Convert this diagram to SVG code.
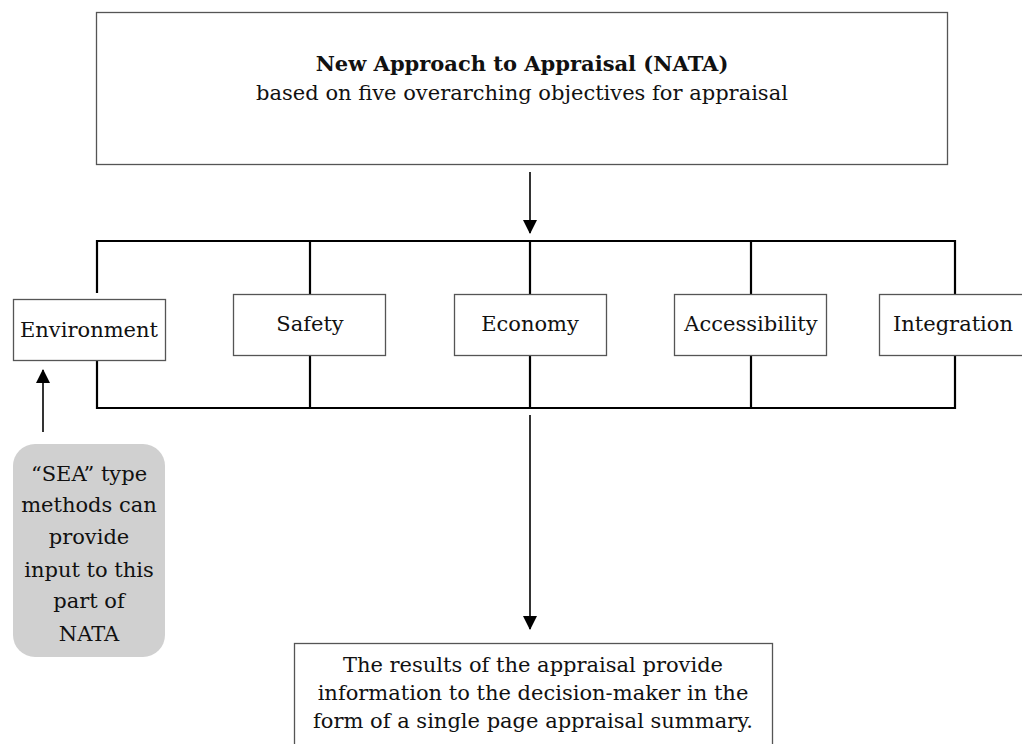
<svg xmlns="http://www.w3.org/2000/svg" width="1022" height="744" viewBox="0 0 1022 744">
<defs>
<marker id="ah" markerWidth="14" markerHeight="14" refX="13" refY="7" orient="auto" markerUnits="userSpaceOnUse">
<path d="M0,0 L14,7 L0,14 Z" fill="#000"/>
</marker>
<style>
.box{fill:#fff;stroke:#555;stroke-width:1.3}
.t{font-family:"DejaVu Serif","Liberation Serif",serif;font-size:21px;fill:#111;text-anchor:middle}
.b{font-weight:bold}
.ln{stroke:#000;stroke-width:2.2;fill:none}
.ar{stroke:#000;stroke-width:1.6;fill:none;marker-end:url(#ah)}
</style>
</defs>
<rect width="1022" height="744" fill="#fff"/>
<g id="connectors">
<path class="ln" d="M97,293 V241 H955 V294 M97,360 V408 H955 V355 M310,241 V294 M310,355 V408 M530,241 V294 M530,355 V408 M751,241 V294 M751,355 V408"/>
<line class="ar" x1="530" y1="172" x2="530" y2="233"/>
<line class="ar" x1="530" y1="415" x2="530" y2="629"/>
<line class="ar" x1="43" y1="432" x2="43" y2="370"/>
</g>
<g id="nata">
<rect class="box" x="96.5" y="12.5" width="851" height="152"/>
<text class="t b" x="522" y="71">New Approach to Appraisal (NATA)</text>
<text class="t" x="522" y="100">based on five overarching objectives for appraisal</text>
</g>
<g id="environment">
<rect class="box" x="13.5" y="299.5" width="152" height="61"/>
<text class="t" x="89" y="337">Environment</text>
</g>
<g id="safety">
<rect class="box" x="233.5" y="294.5" width="152" height="61"/>
<text class="t" x="310" y="331">Safety</text>
</g>
<g id="economy">
<rect class="box" x="454.5" y="294.5" width="152" height="61"/>
<text class="t" x="530" y="331">Economy</text>
</g>
<g id="accessibility">
<rect class="box" x="674.5" y="294.5" width="152" height="61"/>
<text class="t" x="751" y="331">Accessibility</text>
</g>
<g id="integration">
<rect class="box" x="879.5" y="294.5" width="160" height="61"/>
<text class="t" x="953" y="331">Integration</text>
</g>
<g id="sea">
<rect x="13" y="444" width="152" height="213" rx="22" ry="22" fill="#d0d0d0"/>
<text class="t" x="89" y="481">“SEA” type</text>
<text class="t" x="89" y="512">methods can</text>
<text class="t" x="89" y="544">provide</text>
<text class="t" x="89" y="577">input to this</text>
<text class="t" x="89" y="608">part of</text>
<text class="t" x="89" y="641">NATA</text>
</g>
<g id="results">
<rect class="box" x="294.5" y="643.5" width="478" height="110"/>
<text class="t" x="533" y="672">The results of the appraisal provide</text>
<text class="t" x="533" y="700">information to the decision-maker in the</text>
<text class="t" x="533" y="728">form of a single page appraisal summary.</text>
</g>
</svg>
